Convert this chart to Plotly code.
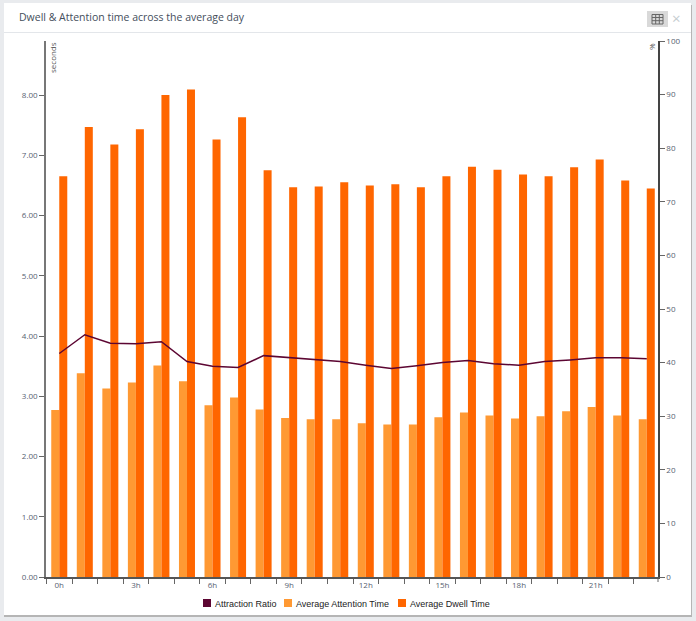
import plotly.graph_objects as go

hours = [f"{h}h" for h in range(24)]
tick_labels = [h if i % 3 == 0 else "" for i, h in enumerate(hours)]
dwell = [6.65, 7.47, 7.18, 7.43, 8.00, 8.09, 7.26, 7.63, 6.75, 6.47, 6.48, 6.55,
         6.50, 6.52, 6.47, 6.65, 6.81, 6.76, 6.68, 6.65, 6.80, 6.93, 6.58, 6.45]
attention = [2.77, 3.38, 3.13, 3.23, 3.51, 3.25, 2.85, 2.98, 2.78, 2.64, 2.62, 2.62,
             2.55, 2.53, 2.53, 2.65, 2.73, 2.68, 2.63, 2.67, 2.75, 2.82, 2.68, 2.62]
ratio = [41.7, 45.2, 43.6, 43.5, 43.9, 40.2, 39.3, 39.1, 41.3, 40.9, 40.5, 40.2,
         39.5, 38.9, 39.4, 40.0, 40.4, 39.8, 39.5, 40.2, 40.5, 40.9, 40.9, 40.7]
legend_names = ["Attraction Ratio", "Average Attention Time", "Average Dwell Time"]

W, H = 696, 621
L, R, T, B = 46, 658, 41, 577
PX = lambda x: (x - L) / (R - L)
PY = lambda y: (B - y) / (B - T)
C_RATIO, C_ATT, C_DWELL = "#5c0632", "#ff9933", "#ff6600"
GREY = "#566171"

fig = go.Figure()
fig.add_bar(x=hours, y=attention, name=legend_names[1], marker_color=C_ATT, marker_line_width=0)
fig.add_bar(x=hours, y=dwell, name=legend_names[2], marker_color=C_DWELL, marker_line_width=0)
fig.add_scatter(x=hours, y=ratio, name=legend_names[0], yaxis="y2", mode="lines",
                line=dict(color=C_RATIO, width=1.5))


def rect(x0, y0, x1, y1, **kw):
    return dict(type="rect", xref="paper", yref="paper", x0=PX(x0), x1=PX(x1),
                y0=PY(y0), y1=PY(y1), layer="below", **kw)


def line(x0, y0, x1, y1, col, w=1):
    return dict(type="line", xref="paper", yref="paper", x0=PX(x0), x1=PX(x1),
                y0=PY(y0), y1=PY(y1), line=dict(color=col, width=w), layer="below")


def note(text, x, y, size, color, family="Open Sans", anchor="center", angle=0):
    return dict(text=text, xref="paper", yref="paper", x=PX(x), y=PY(y), xanchor=anchor,
                yanchor="middle", textangle=angle, showarrow=False,
                font=dict(family=family, size=size, color=color))


shapes = [
    rect(0, 0, 696, 621, fillcolor="#e9ebee", line_width=0),
    rect(4, 5, 692, 617, fillcolor="#b5b5b5", line_width=0),
    rect(4, 3, 691, 615, fillcolor="#ffffff", line_width=0),
    line(4, 32.5, 691, 32.5, "#e3e6ea"),
    rect(647, 11, 668, 27, fillcolor="#d9d9d9", line_width=0),
    rect(652, 14.5, 663, 24, fillcolor="rgba(0,0,0,0)", line=dict(color="#666666", width=1)),
    line(652, 17.5, 663, 17.5, "#666666"), line(652, 20.7, 663, 20.7, "#666666"),
    line(655.7, 14.5, 655.7, 24, "#666666"), line(659.3, 14.5, 659.3, 24, "#666666"),
    line(658, 577, 658, 582, "#666666"),
    rect(203, 599, 211, 607, fillcolor=C_RATIO, line_width=0),
    rect(284, 599, 292, 607, fillcolor=C_ATT, line_width=0),
    rect(398, 599, 406, 607, fillcolor=C_DWELL, line_width=0),
]

annotations = [
    note("Dwell & Attention time across the average day", 17, 16.5, 10.5, "#444e5c", anchor="left"),
    note("×", 677, 18, 15, "#c5ccd0"),
    note("seconds", 52.5, 57.5, 8, "#555555", angle=-90),
    note("%", 652, 47, 8, "#555555", angle=-90),
    note(legend_names[0], 213, 603.5, 9, "#222222", family="Liberation Sans", anchor="left"),
    note(legend_names[1], 294, 603.5, 9, "#222222", family="Liberation Sans", anchor="left"),
    note(legend_names[2], 408, 603.5, 9, "#222222", family="Liberation Sans", anchor="left"),
]

fig.update_layout(
    width=W, height=H, autosize=False,
    margin=dict(l=L, r=W - R, t=T, b=H - B, pad=0),
    paper_bgcolor="#ffffff", plot_bgcolor="rgba(0,0,0,0)",
    barmode="group", bargap=0.373, bargroupgap=0,
    font=dict(family="Open Sans", size=8, color=GREY),
    shapes=shapes, annotations=annotations,
    showlegend=False,
    xaxis=dict(type="category", categoryorder="array", categoryarray=hours,
               tickmode="array", tickvals=hours, ticktext=tick_labels,
               tickson="boundaries", ticks="outside", ticklen=5, tickcolor="#666666",
               tickwidth=1, showline=True, linecolor="#555555", linewidth=1.5,
               showgrid=False, zeroline=False, tickangle=0,
               tickfont=dict(size=8, color=GREY), range=[-0.519, 23.44]),
    yaxis=dict(range=[0, (B - T) / 60.25], tickvals=list(range(9)),
               tickformat=".2f", ticks="outside", ticklen=5, tickcolor="#666666",
               showline=True, linecolor="#777777", linewidth=1.5,
               showgrid=False, zeroline=False, tickfont=dict(size=8, color=GREY)),
    yaxis2=dict(range=[0, 100], overlaying="y", side="right", tickvals=list(range(0, 101, 10)),
                ticks="outside", ticklen=5, tickcolor="#666666",
                showline=True, linecolor="#444444", linewidth=1.5,
                showgrid=False, zeroline=False, tickfont=dict(size=8, color=GREY)),
)
fig.write_html("out.html", config={"displayModeBar": False},
               post_script="document.body.style.margin='0';document.documentElement.style.overflow='hidden';")
